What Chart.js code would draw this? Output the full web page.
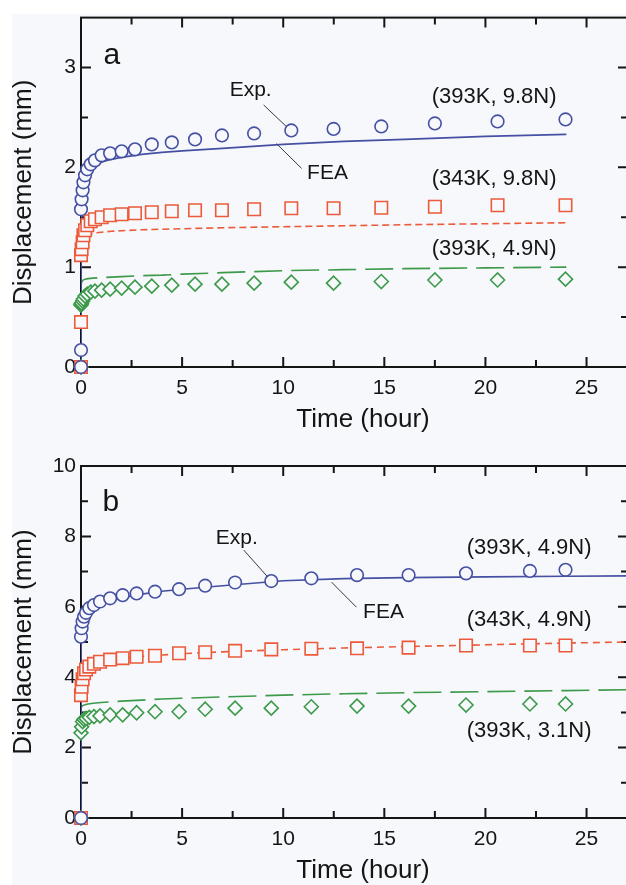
<!DOCTYPE html>
<html>
<head>
<meta charset="utf-8">
<title>Displacement vs time</title>
<script src="https://cdn.jsdelivr.net/npm/chart.js@4.4.1/dist/chart.umd.min.js"></script>
<style>
  html, body { margin: 0; padding: 0; background: #fff; overflow: hidden; }
  #page { position: relative; width: 626px; height: 885px; overflow: hidden; background: #fff; }
  #paper { position: absolute; left: 12px; top: 14px; right: 0; bottom: 0; background: #f6f8fc; }
  canvas { position: absolute; left: 0; }
</style>
</head>
<body>
<div id="page">
  <div id="paper"></div>
  <canvas id="chartA" width="640" height="440" style="top: 0;"></canvas>
  <canvas id="chartB" width="640" height="445" style="top: 440px;"></canvas>
</div>

<script>
// ============================================
// Creep displacement vs time, panels (a) and (b)
// ============================================

// ---- panel a: experiment (markers) ----
const TIME_A = [0, 0, 0, 0.03, 0.08, 0.12, 0.2, 0.31, 0.48, 0.69, 1.02, 1.44, 2.01, 2.67, 3.5, 4.49, 5.64, 6.97, 8.56, 10.4, 12.49, 14.85, 17.5, 20.6, 23.96];
const EXP_A_393K_98N = [0, 0.17, 1.58, 1.68, 1.77, 1.85, 1.92, 1.98, 2.03, 2.07, 2.12, 2.14, 2.16, 2.18, 2.23, 2.25, 2.28, 2.32, 2.34, 2.37, 2.385, 2.41, 2.44, 2.46, 2.48];
const EXP_A_343K_98N = [0, 0.45, 1.12, 1.18, 1.25, 1.32, 1.37, 1.42, 1.46, 1.48, 1.5, 1.52, 1.53, 1.54, 1.55, 1.56, 1.57, 1.57, 1.58, 1.59, 1.59, 1.595, 1.605, 1.62, 1.62];
const EXP_A_393K_49N = [0, 0.62, 0.63, 0.64, 0.66, 0.68, 0.71, 0.73, 0.75, 0.76, 0.77, 0.78, 0.79, 0.8, 0.81, 0.82, 0.83, 0.83, 0.84, 0.85, 0.84, 0.856, 0.872, 0.872, 0.88];

// ---- panel a: FEA (lines) ----
const FEA_TIME_A = [0, 0, 0.02, 0.05, 0.1, 0.2, 0.35, 0.6, 1, 1.5, 2, 3, 4, 5, 7, 10, 13, 16, 20, 24];
const FEA_A_393K_98N = [0, 1.52, 1.65, 1.75, 1.83, 1.9, 1.96, 2.01, 2.05, 2.08, 2.1, 2.13, 2.15, 2.165, 2.19, 2.23, 2.26, 2.28, 2.31, 2.33];
const FEA_A_343K_98N = [0, 1.05, 1.17, 1.23, 1.27, 1.3, 1.32, 1.34, 1.35, 1.36, 1.365, 1.375, 1.38, 1.385, 1.395, 1.405, 1.415, 1.425, 1.435, 1.445];
const FEA_A_393K_49N = [0, 0.8, 0.84, 0.86, 0.87, 0.88, 0.885, 0.89, 0.895, 0.9, 0.905, 0.915, 0.92, 0.93, 0.945, 0.965, 0.975, 0.985, 0.993, 1.0];

// ---- panel b: experiment (markers) ----
const TIME_B = [0, 0, 0.03, 0.08, 0.15, 0.25, 0.41, 0.64, 0.94, 1.44, 2.06, 2.75, 3.66, 4.85, 6.14, 7.62, 9.41, 11.39, 13.65, 16.2, 19.04, 22.2, 23.96];
const EXP_B_393K_49N = [0, 5.15, 5.39, 5.58, 5.72, 5.83, 5.96, 6.05, 6.15, 6.24, 6.33, 6.38, 6.43, 6.5, 6.6, 6.69, 6.73, 6.81, 6.9, 6.9, 6.95, 7.02, 7.05];
const EXP_B_343K_49N = [0, 3.49, 3.73, 3.94, 4.11, 4.22, 4.3, 4.38, 4.44, 4.5, 4.54, 4.58, 4.61, 4.68, 4.71, 4.75, 4.79, 4.81, 4.82, 4.84, 4.9, 4.9, 4.9];
const EXP_B_393K_31N = [0, 2.42, 2.59, 2.74, 2.8, 2.83, 2.86, 2.88, 2.9, 2.93, 2.93, 2.99, 3.02, 3.02, 3.09, 3.12, 3.12, 3.16, 3.18, 3.18, 3.21, 3.24, 3.24];

// ---- panel b: FEA (lines) ----
const FEA_TIME_B = [0, 0, 0.02, 0.05, 0.1, 0.2, 0.35, 0.6, 1, 1.5, 2, 3, 4, 5, 7, 10, 13, 16, 20, 24, 28];
const FEA_B_393K_49N = [0, 4.9, 5.2, 5.4, 5.55, 5.72, 5.85, 5.98, 6.08, 6.18, 6.25, 6.36, 6.44, 6.5, 6.6, 6.74, 6.8, 6.83, 6.85, 6.87, 6.88];
const FEA_B_343K_49N = [0, 3.4, 3.8, 4.0, 4.12, 4.23, 4.31, 4.38, 4.44, 4.5, 4.54, 4.59, 4.63, 4.67, 4.72, 4.78, 4.83, 4.87, 4.92, 4.97, 5.01];
const FEA_B_393K_31N = [0, 3.0, 3.12, 3.17, 3.2, 3.22, 3.24, 3.26, 3.28, 3.3, 3.32, 3.35, 3.38, 3.4, 3.44, 3.49, 3.53, 3.56, 3.59, 3.62, 3.65];

// ---- axes ----
const X_MAX = 27.05;
const X_TICKS = [0, 5, 10, 15, 20, 25];
const X_MINOR = [2.5, 7.5, 12.5, 17.5, 22.5];
const Y_MAX_A = 3.5;
const Y_TICKS_A = [0, 1, 2, 3];
const Y_MINOR_A = [0.5, 1.5, 2.5];
const Y_MAX_B = 10;
const Y_TICKS_B = [0, 2, 4, 6, 8, 10];
const Y_MINOR_B = [1, 3, 5, 7, 9];

const FONT = "'Liberation Sans', Arial, Helvetica, sans-serif";
const INK = '#151515';
const PAPER = '#f6f8fc';
const BLUE = '#4650a2';
const RED = '#ec5a3a';
const GREEN = '#3d9a4a';

function pts(xs, ys) {
  return xs.map((x, i) => ({ x: x, y: ys[i] }));
}

function markers(xs, ys, color, style, radius) {
  return {
    data: pts(xs, ys),
    showLine: false,
    pointStyle: style,
    pointRadius: radius,
    pointBorderWidth: 1.6,
    pointBorderColor: color,
    pointBackgroundColor: PAPER,
    clip: false
  };
}

function feaLine(xs, ys, color, dash) {
  return {
    data: pts(xs, ys),
    showLine: true,
    pointRadius: 0,
    borderColor: color,
    borderWidth: 1.6,
    borderDash: dash,
    tension: 0
  };
}

// frame with inward major/minor ticks on all four sides
const framePlugin = {
  id: 'frame',
  beforeDatasetsDraw(chart, args, opts) {
    const { ctx, chartArea: a, scales: { x, y } } = chart;
    ctx.save();
    ctx.strokeStyle = INK;
    ctx.lineWidth = 2;
    ctx.strokeRect(a.left, a.top, a.right - a.left, a.bottom - a.top);
    const tick = (list, len, horiz) => {
      list.forEach(v => {
        ctx.beginPath();
        if (horiz) {
          const px = x.getPixelForValue(v);
          ctx.moveTo(px, a.bottom); ctx.lineTo(px, a.bottom - len);
          ctx.moveTo(px, a.top); ctx.lineTo(px, a.top + len);
        } else {
          const py = y.getPixelForValue(v);
          ctx.moveTo(a.left, py); ctx.lineTo(a.left + len, py);
          ctx.moveTo(a.right, py); ctx.lineTo(a.right - len, py);
        }
        ctx.stroke();
      });
    };
    tick(opts.xMajor.filter(v => v > x.min && v < x.max), 10, true);
    tick(opts.xMinor, 7, true);
    tick(opts.yMajor.filter(v => v > y.min && v < y.max), 10, false);
    tick(opts.yMinor, 7, false);
    ctx.restore();
  }
};

// axis titles, panel letter, series labels and leader lines
const notesPlugin = {
  id: 'notes',
  afterDraw(chart, args, opts) {
    const { ctx, chartArea: a, scales: { x, y } } = chart;
    ctx.save();
    ctx.fillStyle = INK;
    ctx.textBaseline = 'middle';
    ctx.textAlign = 'center';

    ctx.font = `26px ${FONT}`;
    ctx.fillText('Time (hour)', 363, a.bottom + 53);
    ctx.save();
    ctx.translate(24, (a.top + a.bottom) / 2);
    ctx.rotate(-Math.PI / 2);
    ctx.fillText('Displacement (mm)', 0, 0);
    ctx.restore();

    opts.texts.forEach(t => {
      ctx.font = `${t.size}px ${FONT}`;
      ctx.fillText(t.text, x.getPixelForValue(t.x), y.getPixelForValue(t.y));
    });

    ctx.strokeStyle = '#3a3a3a';
    ctx.lineWidth = 1;
    opts.leaders.forEach(l => {
      ctx.beginPath();
      ctx.moveTo(x.getPixelForValue(l[0]), y.getPixelForValue(l[1]));
      ctx.lineTo(x.getPixelForValue(l[2]), y.getPixelForValue(l[3]));
      ctx.stroke();
    });
    ctx.restore();
  }
};

function makeChart(id, datasets, yMax, yTicks, yMinor, padTop, xHeight, notes) {
  return new Chart(document.getElementById(id), {
    type: 'scatter',
    data: { datasets: datasets },
    plugins: [framePlugin, notesPlugin],
    options: {
      responsive: false,
      animation: false,
      layout: { padding: { left: 0, top: padTop, right: 12, bottom: 0 } },
      plugins: {
        legend: { display: false },
        tooltip: { enabled: false },
        frame: { xMajor: X_TICKS, xMinor: X_MINOR, yMajor: yTicks, yMinor: yMinor },
        notes: notes
      },
      scales: {
        x: {
          type: 'linear', min: 0, max: X_MAX,
          grid: { display: false, drawTicks: false },
          border: { display: false },
          ticks: { font: { family: FONT, size: 21 }, color: INK, padding: 9, maxRotation: 0, autoSkip: false },
          afterBuildTicks: s => { s.ticks = X_TICKS.map(v => ({ value: v })); },
          afterFit: s => { s.height = xHeight; }
        },
        y: {
          type: 'linear', min: 0, max: yMax,
          grid: { display: false, drawTicks: false },
          border: { display: false },
          ticks: { font: { family: FONT, size: 21 }, color: INK, padding: 5, autoSkip: false },
          afterBuildTicks: s => { s.ticks = yTicks.map(v => ({ value: v })); },
          afterFit: s => { s.width = 81; }
        }
      }
    }
  });
}

// ---- panel a ----
makeChart('chartA', [
  markers(TIME_A, EXP_A_393K_98N, BLUE, 'circle', 6.3),
  markers(TIME_A, EXP_A_343K_98N, RED, 'rect', 8.8),
  markers(TIME_A, EXP_A_393K_49N, GREEN, 'rectRot', 7),
  feaLine(FEA_TIME_A, FEA_A_393K_98N, BLUE, []),
  feaLine(FEA_TIME_A, FEA_A_343K_98N, RED, [7, 4]),
  feaLine(FEA_TIME_A, FEA_A_393K_49N, GREEN, [28, 9])
], Y_MAX_A, Y_TICKS_A, Y_MINOR_A, 15, 73, {
  texts: [
    { text: 'a', x: 1.53, y: 3.12, size: 30 },
    { text: 'Exp.', x: 8.39, y: 2.774, size: 21 },
    { text: 'FEA', x: 12.19, y: 1.939, size: 21 },
    { text: '(393K, 9.8N)', x: 20.43, y: 2.705, size: 22 },
    { text: '(343K, 9.8N)', x: 20.43, y: 1.879, size: 22 },
    { text: '(393K, 4.9N)', x: 20.43, y: 1.183, size: 22 }
  ],
  leaders: [
    [9.03, 2.625, 10.17, 2.406],
    [9.67, 2.237, 10.91, 1.989]
  ]
});

// ---- panel b ----
makeChart('chartB', [
  markers(TIME_B, EXP_B_393K_49N, BLUE, 'circle', 6.3),
  markers(TIME_B, EXP_B_343K_49N, RED, 'rect', 8.8),
  markers(TIME_B, EXP_B_393K_31N, GREEN, 'rectRot', 7),
  feaLine(FEA_TIME_B, FEA_B_393K_49N, BLUE, []),
  feaLine(FEA_TIME_B, FEA_B_343K_49N, RED, [7, 5]),
  feaLine(FEA_TIME_B, FEA_B_393K_31N, GREEN, [28, 9])
], Y_MAX_B, Y_TICKS_B, Y_MINOR_B, 26, 67, {
  texts: [
    { text: 'b', x: 1.48, y: 8.95, size: 30 },
    { text: 'Exp.', x: 7.7, y: 7.95, size: 21 },
    { text: 'FEA', x: 14.96, y: 5.85, size: 21 },
    { text: '(393K, 4.9N)', x: 22.16, y: 7.67, size: 22 },
    { text: '(343K, 4.9N)', x: 22.16, y: 5.63, size: 22 },
    { text: '(393K, 3.1N)', x: 22.16, y: 2.47, size: 22 }
  ],
  leaders: [
    [8.05, 7.61, 9.23, 6.85],
    [12.39, 6.7, 13.62, 5.99]
  ]
});
</script>
</body>
</html>
